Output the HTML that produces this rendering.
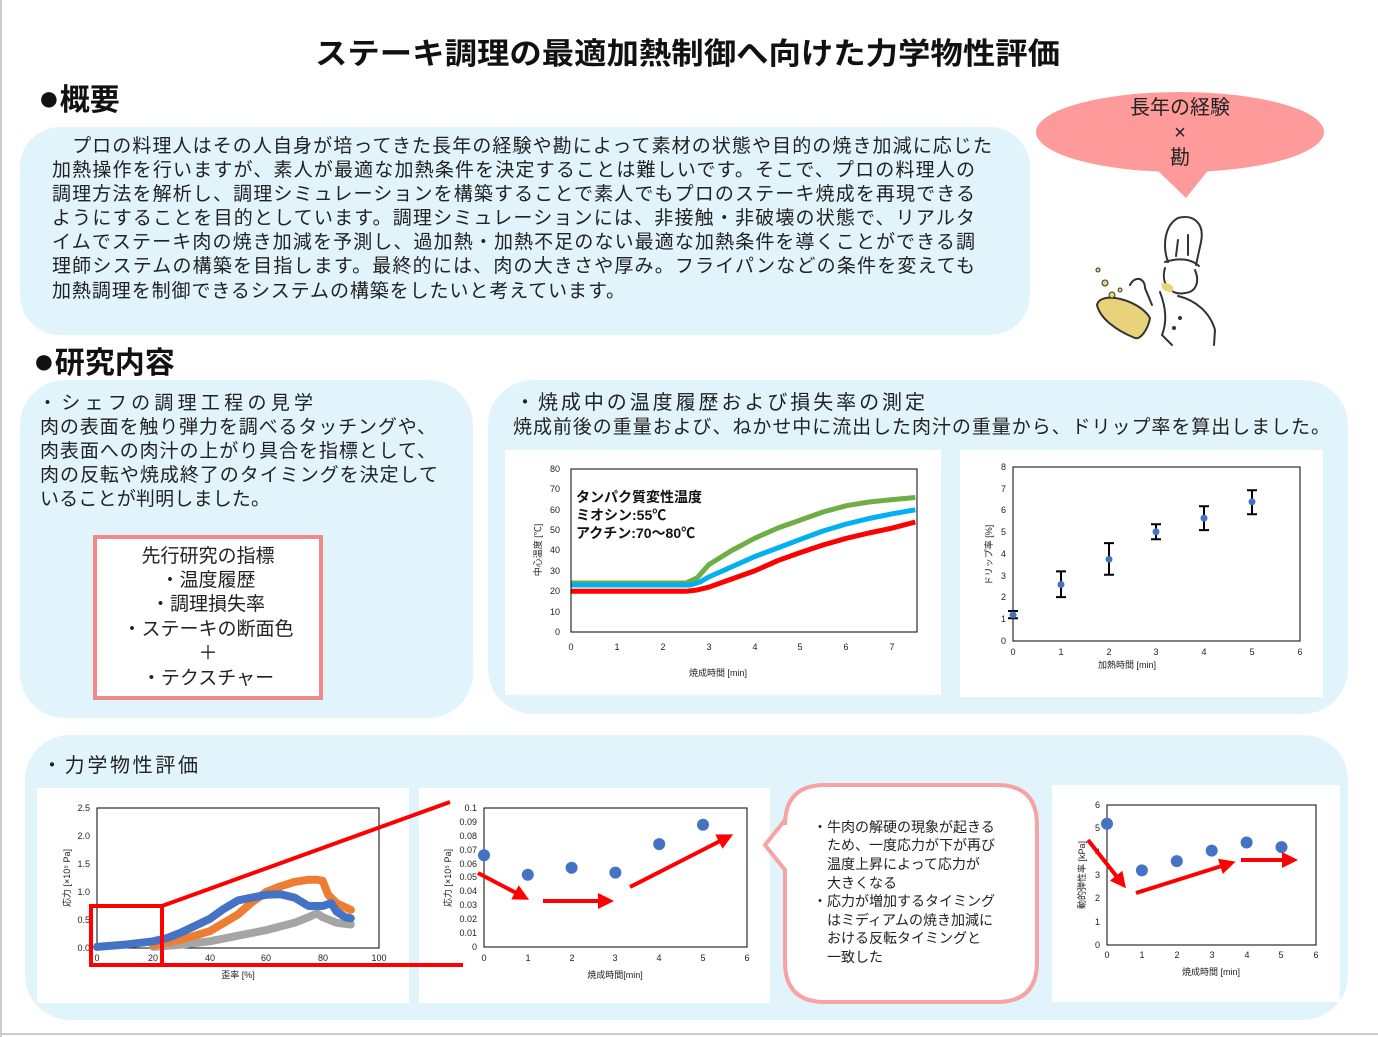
<!DOCTYPE html>
<html><head><meta charset="utf-8"><style>
html,body{margin:0;padding:0;background:#fff;}
svg{display:block;font-family:"Liberation Sans","Noto Sans CJK JP",sans-serif;}
.t{font-size:9px;fill:#222}
.b{font-size:19px;fill:#222}
</style></head><body>
<svg width="1378" height="1037" viewBox="0 0 1378 1037" xmlns="http://www.w3.org/2000/svg">
<defs>
<marker id="ah" markerWidth="4" markerHeight="4" refX="2" refY="2" orient="auto" markerUnits="strokeWidth"><path d="M0,0 L4,2 L0,4 z" fill="#f00"/></marker>
</defs>
<rect x="0" y="0" width="1378" height="1037" fill="#fff"/>
<line x1="1" y1="0" x2="1" y2="1037" stroke="#ccc" stroke-width="2"/>
<line x1="0" y1="1034" x2="1378" y2="1034" stroke="#ccc" stroke-width="2"/>

<text x="315" y="64" font-size="30" font-weight="bold" fill="#111" textLength="745" lengthAdjust="spacingAndGlyphs">ステーキ調理の最適加熱制御へ向けた力学物性評価</text>
<text x="38" y="110" font-size="30" font-weight="bold" fill="#111"><tspan font-size="36">●</tspan>概要</text>

<rect x="20" y="127" width="1010" height="208" rx="40" fill="#e2f4fb"/>
<g class="b">
<text x="52" y="152" textLength="940" lengthAdjust="spacing">　プロの料理人はその人自身が培ってきた長年の経験や勘によって素材の状態や目的の焼き加減に応じた</text>
<text x="52" y="176" textLength="923" lengthAdjust="spacing">加熱操作を行いますが、素人が最適な加熱条件を決定することは難しいです。そこで、プロの料理人の</text>
<text x="52" y="200" textLength="923" lengthAdjust="spacing">調理方法を解析し、調理シミュレーションを構築することで素人でもプロのステーキ焼成を再現できる</text>
<text x="52" y="224" textLength="923" lengthAdjust="spacing">ようにすることを目的としています。調理シミュレーションには、非接触・非破壊の状態で、リアルタ</text>
<text x="52" y="248" textLength="923" lengthAdjust="spacing">イムでステーキ肉の焼き加減を予測し、過加熱・加熱不足のない最適な加熱条件を導くことができる調</text>
<text x="52" y="272" textLength="923" lengthAdjust="spacing">理師システムの構築を目指します。最終的には、肉の大きさや厚み。フライパンなどの条件を変えても</text>
<text x="52" y="297" textLength="573" lengthAdjust="spacing">加熱調理を制御できるシステムの構築をしたいと考えています。</text>
</g>

<!-- bubble -->
<ellipse cx="1180" cy="132" rx="144" ry="40" fill="#fe9a9a"/>
<path d="M1155,168 L1186,198 L1210,168 z" fill="#fe9a9a"/>
<g font-size="20" fill="#222" text-anchor="middle">
<text x="1180" y="114">長年の経験</text><text x="1180" y="139">×</text><text x="1180" y="164">勘</text></g>
<!-- chef -->
<g fill="none" stroke="#333" stroke-width="2" stroke-linecap="round">
<path d="M1168,262 C1162,245 1165,225 1178,218 C1192,214 1205,222 1201,242 L1196,265"/>
<path d="M1165,262 C1178,258 1190,258 1199,266"/>
<path d="M1165,268 C1160,285 1172,296 1185,293 C1196,292 1200,282 1195,270"/>
<path d="M1178,296 C1195,300 1210,312 1215,330 L1214,345"/>
<path d="M1160,292 C1165,305 1168,320 1162,335 L1172,345"/>
<path d="M1130,285 C1135,275 1145,278 1145,288 L1152,305"/>
<path d="M1178,240 L1176,256 M1188,235 L1188,255"/>
<circle cx="1180" cy="318" r="1"/><circle cx="1174" cy="328" r="1"/>
</g>
<path d="M1097,305 C1100,290 1140,300 1150,318 C1148,330 1140,340 1135,338 C1115,330 1100,318 1097,305z" fill="#e8d27a" stroke="#333" stroke-width="2"/>
<g fill="#e8d27a" stroke="#333" stroke-width="1"><circle cx="1098" cy="270" r="2"/><circle cx="1105" cy="283" r="3"/><circle cx="1112" cy="295" r="3"/><circle cx="1120" cy="290" r="2"/></g>
<path d="M1162,283 C1170,283 1176,286 1172,292 C1164,292 1160,288 1162,283z" fill="#e8d27a"/>

<text x="33" y="373" font-size="30" font-weight="bold" fill="#111"><tspan font-size="36">●</tspan>研究内容</text>

<!-- left panel -->
<rect x="20" y="380" width="453" height="338" rx="45" fill="#e2f4fb"/>
<g class="b" font-size="20">
<text x="38" y="409" textLength="275" lengthAdjust="spacing">・シェフの調理工程の見学</text>
<text x="40" y="433" textLength="396" lengthAdjust="spacing">肉の表面を触り弾力を調べるタッチングや、</text>
<text x="40" y="457" textLength="396" lengthAdjust="spacing">肉表面への肉汁の上がり具合を指標として、</text>
<text x="40" y="481" textLength="398" lengthAdjust="spacing">肉の反転や焼成終了のタイミングを決定して</text>
<text x="40" y="505" textLength="230" lengthAdjust="spacing">いることが判明しました。</text>
</g>
<rect x="95" y="537" width="226" height="161" fill="#fff" stroke="#f08b8b" stroke-width="4"/>
<g font-size="19" fill="#222" text-anchor="middle">
<text x="208" y="562">先行研究の指標</text><text x="208" y="586">・温度履歴</text><text x="208" y="610">・調理損失率</text>
<text x="208" y="635">・ステーキの断面色</text><text x="208" y="659">＋</text><text x="208" y="684">・テクスチャー</text></g>

<!-- right panel -->
<rect x="488" y="380" width="860" height="334" rx="45" fill="#e2f4fb"/>
<text x="515" y="409" font-size="20" fill="#222" textLength="410" lengthAdjust="spacing">・焼成中の温度履歴および損失率の測定</text>
<text x="513" y="433" font-size="19" fill="#222" textLength="817" lengthAdjust="spacing">焼成前後の重量および、ねかせ中に流出した肉汁の重量から、ドリップ率を算出しました。</text>

<!-- temp chart -->
<rect x="505" y="450" width="436" height="245" fill="#fff"/>
<g class="t" text-anchor="end">
<text x="560" y="635">0</text><text x="560" y="615">10</text><text x="560" y="594">20</text><text x="560" y="574">30</text><text x="560" y="553">40</text><text x="560" y="533">50</text><text x="560" y="513">60</text><text x="560" y="492">70</text><text x="560" y="472">80</text></g>
<g class="t" text-anchor="middle">
<text x="571" y="650">0</text><text x="617" y="650">1</text><text x="663" y="650">2</text><text x="709" y="650">3</text><text x="755" y="650">4</text><text x="800" y="650">5</text><text x="846" y="650">6</text><text x="892" y="650">7</text></g>
<text x="718" y="676" class="t" text-anchor="middle">焼成時間 [min]</text>
<text transform="translate(541,550) rotate(-90)" class="t" text-anchor="middle">中心温度 [℃]</text>
<g fill="none" stroke-width="5" stroke-linejoin="round">
<polyline stroke="#70ad47" points="571,583 685.8,583 697,578 708.7,564.8 731.7,550.5 754.6,538.3 777.6,528.1 800.5,520 823,512 846.4,505.7 869,502 892.3,499.6 915.3,497.5"/>
<polyline stroke="#00b0f0" points="571,585 690.3,585 700,582 708.7,577 731.7,566.8 754.6,556.6 777.6,548 800.5,539.3 823,531 846.4,524 869,518.5 892.3,513.8 915.3,509.8"/>
<polyline stroke="#ff0000" points="571,591.3 685.8,591.3 697,590 708.7,587.2 731.7,579 754.6,570.9 777.6,560.7 800.5,552.5 823,545 846.4,538.3 869,533 892.3,528.1 915.3,522"/>
</g>
<rect x="571" y="469" width="346" height="163" fill="none" stroke="#000" stroke-width="1"/>
<g font-size="14" fill="#111" font-weight="bold">
<text x="576" y="502">タンパク質変性温度</text><text x="576" y="520">ミオシン:55℃</text><text x="576" y="538">アクチン:70〜80℃</text></g>

<!-- drip chart -->
<rect x="960" y="450" width="363" height="247" fill="#fff"/>
<rect x="1013" y="467" width="287" height="174" fill="none" stroke="#000"/>
<g class="t" text-anchor="end">
<text x="1006" y="644">0</text><text x="1006" y="622">1</text><text x="1006" y="600">2</text><text x="1006" y="579">3</text><text x="1006" y="557">4</text><text x="1006" y="535">5</text><text x="1006" y="513">6</text><text x="1006" y="492">7</text><text x="1006" y="470">8</text></g>
<g class="t" text-anchor="middle">
<text x="1013" y="655">0</text><text x="1061" y="655">1</text><text x="1109" y="655">2</text><text x="1156" y="655">3</text><text x="1204" y="655">4</text><text x="1252" y="655">5</text><text x="1300" y="655">6</text></g>
<text x="1127" y="668" class="t" text-anchor="middle">加熱時間 [min]</text>
<text transform="translate(992,555) rotate(-90)" class="t" text-anchor="middle">ドリップ率 [%]</text>
<g stroke="#000" stroke-width="2">
<path d="M1013,618.2V611M1008,618.2h10M1008,611h10"/>
<path d="M1061,597.1V571.4M1056,597.1h10M1056,571.4h10"/>
<path d="M1109,574.7V543.1M1104,574.7h10M1104,543.1h10"/>
<path d="M1156,539.2V524.2M1151,539.2h10M1151,524.2h10"/>
<path d="M1204,530.1V506.2M1199,530.1h10M1199,506.2h10"/>
<path d="M1252,514.2V490.3M1247,514.2h10M1247,490.3h10"/>
</g>
<g fill="#4472c4"><circle cx="1013" cy="614.9" r="3.5"/><circle cx="1061" cy="584.5" r="3.5"/><circle cx="1109" cy="559.4" r="3.5"/><circle cx="1156" cy="531.8" r="3.5"/><circle cx="1204" cy="518.1" r="3.5"/><circle cx="1252" cy="501.8" r="3.5"/></g>

<!-- bottom panel -->
<rect x="25" y="735" width="1323" height="285" rx="45" fill="#e2f4fb"/>
<text x="42" y="772" font-size="20" fill="#222" textLength="156" lengthAdjust="spacing">・力学物性評価</text>

<!-- stress-strain -->
<rect x="37" y="788" width="372" height="215" fill="#fff"/>
<rect x="97" y="808" width="282" height="140" fill="none" stroke="#000"/>
<g class="t" text-anchor="end">
<text x="90" y="951">0.0</text><text x="90" y="923">0.5</text><text x="90" y="895">1.0</text><text x="90" y="867">1.5</text><text x="90" y="839">2.0</text><text x="90" y="811">2.5</text></g>
<g class="t" text-anchor="middle">
<text x="97" y="961">0</text><text x="153" y="961">20</text><text x="210" y="961">40</text><text x="266" y="961">60</text><text x="323" y="961">80</text><text x="379" y="961">100</text></g>
<text x="238" y="978" class="t" text-anchor="middle">歪率 [%]</text>
<text transform="translate(70,878) rotate(-90)" class="t" text-anchor="middle">応力 [×10⁵ Pa]</text>
<g fill="none" stroke-width="8" stroke-linecap="round" stroke-linejoin="round">
<polyline stroke="#a5a5a5" points="153.4,946.9 181.6,944.6 209.8,941.3 238,935.7 266.2,930.1 294.4,922.8 308.5,917.2 317,913.3 322.6,917.2 336.7,922.8 350.8,924.5"/>
<polyline stroke="#ed7d31" points="153.4,945.2 181.6,939.6 209.8,931.2 223.9,922.8 238,914.4 252.1,902.1 266.2,892 280.3,886.4 294.4,881.9 308.5,879.7 317,879.7 322.6,880.8 328.2,894.8 336.7,903.2 350.8,909.9"/>
<polyline stroke="#4472c4" points="97,946.9 125.2,944.6 153.4,941.3 167.5,937.9 181.6,932.3 209.8,918.9 223.9,908.8 238,900.4 252.1,897.6 266.2,894.8 280.3,894.2 294.4,897.6 308.5,906 322.6,906 331.1,903.2 336.7,911.6 345.2,917.2 350.8,918.3"/>
</g>

<!-- chart B -->
<rect x="419" y="788" width="351" height="215" fill="#fff"/>
<rect x="484" y="808" width="263" height="139" fill="none" stroke="#000"/>
<g class="t" text-anchor="end" font-size="8">
<text x="477" y="950">0</text><text x="477" y="936">0.01</text><text x="477" y="922">0.02</text><text x="477" y="908">0.03</text><text x="477" y="894">0.04</text><text x="477" y="880">0.05</text><text x="477" y="867">0.06</text><text x="477" y="853">0.07</text><text x="477" y="839">0.08</text><text x="477" y="825">0.09</text><text x="477" y="811">0.1</text></g>
<g class="t" text-anchor="middle">
<text x="484" y="961">0</text><text x="528" y="961">1</text><text x="572" y="961">2</text><text x="615" y="961">3</text><text x="659" y="961">4</text><text x="703" y="961">5</text><text x="747" y="961">6</text></g>
<text x="615" y="978" class="t" text-anchor="middle">焼成時間[min]</text>
<text transform="translate(451,878) rotate(-90)" class="t" text-anchor="middle">応力 [×10⁵ Pa]</text>
<g fill="#4472c4"><circle cx="484" cy="855.3" r="6"/><circle cx="527.8" cy="874.7" r="6"/><circle cx="571.6" cy="867.8" r="6"/><circle cx="615.4" cy="872.6" r="6"/><circle cx="659.2" cy="844.1" r="6"/><circle cx="703" cy="824.7" r="6"/></g>
<g stroke="#f00" stroke-width="4" marker-end="url(#ah)">
<line x1="478" y1="873" x2="522" y2="896"/><line x1="543" y1="901" x2="606" y2="901"/><line x1="630" y1="887" x2="726" y2="838"/></g>

<!-- red zoom lines -->
<rect x="91" y="906" width="71" height="59" fill="none" stroke="#f00" stroke-width="4"/>
<line x1="162" y1="906" x2="450" y2="802" stroke="#f00" stroke-width="4"/>
<line x1="162" y1="965" x2="463" y2="965" stroke="#f00" stroke-width="4"/>

<!-- callout -->
<path d="M825,785 H997 Q1037,785 1037,825 V962 Q1037,1002 997,1002 H825 Q785,1002 785,962 V870 L765,845 L785,820 V825 Q785,785 825,785 Z" fill="#fff" stroke="#f7a3a3" stroke-width="4"/>
<g font-size="14" fill="#222">
<text x="813" y="832">・牛肉の解硬の現象が起きる</text><text x="813" y="850">　ため、一度応力が下が再び</text><text x="813" y="869">　温度上昇によって応力が</text><text x="813" y="888">　大きくなる</text>
<text x="813" y="906">・応力が増加するタイミング</text><text x="813" y="925">　はミディアムの焼き加減に</text><text x="813" y="943">　おける反転タイミングと</text><text x="813" y="962">　一致した</text></g>

<!-- chart C -->
<rect x="1052" y="785" width="288" height="217" fill="#fff"/>
<rect x="1107" y="805" width="209" height="140" fill="none" stroke="#000"/>
<g class="t" text-anchor="end">
<text x="1100" y="948">0</text><text x="1100" y="925">1</text><text x="1100" y="901">2</text><text x="1100" y="878">3</text><text x="1100" y="855">4</text><text x="1100" y="831">5</text><text x="1100" y="808">6</text></g>
<g class="t" text-anchor="middle">
<text x="1107" y="958">0</text><text x="1142" y="958">1</text><text x="1177" y="958">2</text><text x="1212" y="958">3</text><text x="1247" y="958">4</text><text x="1281" y="958">5</text><text x="1316" y="958">6</text></g>
<text x="1211" y="975" class="t" text-anchor="middle">焼成時間 [min]</text>
<text transform="translate(1085,875) rotate(-90)" class="t" text-anchor="middle" font-size="8">動的弾性率 [kPa]</text>
<g fill="#4472c4"><circle cx="1107" cy="823.8" r="6"/><circle cx="1141.9" cy="870.4" r="6"/><circle cx="1176.8" cy="861.1" r="6"/><circle cx="1211.7" cy="850.6" r="6"/><circle cx="1246.6" cy="842.5" r="6"/><circle cx="1281.5" cy="847.1" r="6"/></g>
<g stroke="#f00" stroke-width="4" marker-end="url(#ah)">
<line x1="1088" y1="840" x2="1121" y2="882"/><line x1="1136" y1="893" x2="1228" y2="864"/><line x1="1241" y1="860" x2="1290" y2="860"/></g>
</svg>
</body></html>
